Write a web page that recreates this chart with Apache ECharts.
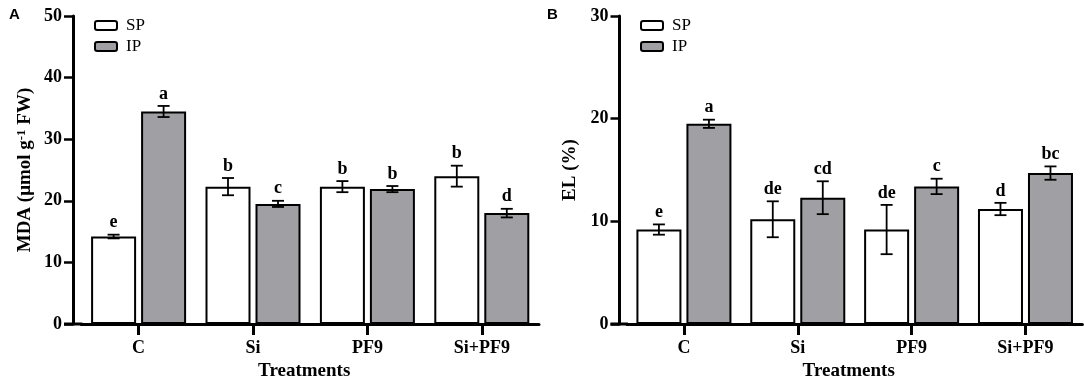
<!DOCTYPE html>
<html>
<head>
<meta charset="utf-8">
<script src="https://cdn.jsdelivr.net/npm/echarts@6/dist/echarts.min.js"></script>
<style>
  html, body { margin: 0; padding: 0; background: #fff; }
  #chart { width: 1084px; height: 376px; }
</style>
</head>
<body>
<div id="chart"></div>
<script>
// data
const categories = ['C', 'Si', 'PF9', 'Si+PF9']

const mdaSP = [14.2, 22.3, 22.3, 24.0]
const mdaSPErr = [0.3, 1.4, 0.9, 1.7]
const mdaSPLetters = ['e', 'b', 'b', 'b']
const mdaIP = [34.5, 19.5, 21.9, 18.0]
const mdaIPErr = [0.9, 0.5, 0.5, 0.7]
const mdaIPLetters = ['a', 'c', 'b', 'd']

const elSP = [9.2, 10.2, 9.2, 11.2]
const elSPErr = [0.5, 1.75, 2.4, 0.6]
const elSPLetters = ['e', 'de', 'de', 'd']
const elIP = [19.5, 12.3, 13.4, 14.7]
const elIPErr = [0.4, 1.6, 0.75, 0.65]
const elIPLetters = ['a', 'cd', 'c', 'bc']

const serif = "'Liberation Serif', 'Times New Roman', serif"
const gray = '#a0a0a4'
const barW = 45
const gapPx = 5
const shift = (barW + gapPx) / 2

const gridA = { left: 81.4, right: 545, top: 16, bottom: 52, outerBoundsMode: 'none' }
const gridB = { left: 627, right: 1.6, top: 16, bottom: 52, outerBoundsMode: 'none' }
const offA = 8.4
const offB = 7.5
const yTickLen = 9

function xAxisCfg(idx) {
  return {
    type: 'category', gridIndex: idx, data: categories,
    name: 'Treatments', nameLocation: 'middle', nameGap: 34,
    nameTextStyle: { fontFamily: serif, fontWeight: 'bold', fontSize: 19, color: '#000', padding: [0, 12, 0, 0] },
    axisLine: { show: true, lineStyle: { color: '#000', width: 3 } },
    axisTick: { show: true, interval: 0, alignWithLabel: true, length: 11, lineStyle: { color: '#000', width: 3 } },
    axisLabel: { fontFamily: serif, fontWeight: 'bold', fontSize: 18, color: '#000', margin: 15 }
  }
}

function yAxisCfg(idx, max, name, gap, off) {
  return {
    type: 'value', gridIndex: idx, min: 0, max: max, interval: 10, offset: off,
    name: name, nameLocation: 'middle', nameGap: gap, nameRotate: 90,
    nameTextStyle: {
      fontFamily: serif, fontWeight: 'bold', fontSize: 19, color: '#000',
      rich: { sup: { fontFamily: serif, fontWeight: 'bold', fontSize: 13, color: '#000', verticalAlign: 'top', padding: [0, 0, 8, 0] } }
    },
    splitLine: { show: false },
    axisLine: { show: true, lineStyle: { color: '#000', width: 3 } },
    axisTick: { show: true, length: yTickLen, lineStyle: { color: '#000', width: 2.5 } },
    axisLabel: { fontFamily: serif, fontWeight: 'bold', fontSize: 18, color: '#000', margin: 11 }
  }
}

function barSeries(name, idx, values, color) {
  return {
    name: name, type: 'bar', xAxisIndex: idx, yAxisIndex: idx,
    data: values, barWidth: barW, barGap: (gapPx / barW * 100) + '%',
    itemStyle: { color: color, borderColor: '#000', borderWidth: 2 },
    emphasis: { disabled: true }
  }
}

function errSeries(name, idx, values, errs, letters, side) {
  return {
    name: name, type: 'custom', xAxisIndex: idx, yAxisIndex: idx, silent: true, z: 10,
    data: values.map((v, i) => [i, v, errs[i], letters[i]]),
    renderItem: function (params, api) {
      const i = api.value(0)
      const v = api.value(1)
      const e = api.value(2)
      const top = api.coord([i, v + e])
      const bot = api.coord([i, v - e])
      const x = top[0] + side * shift
      const s = { stroke: '#000', lineWidth: 1.8 }
      return {
        type: 'group',
        children: [
          { type: 'line', shape: { x1: x, y1: top[1], x2: x, y2: bot[1] }, style: s },
          { type: 'line', shape: { x1: x - 6, y1: top[1], x2: x + 6, y2: top[1] }, style: s },
          { type: 'line', shape: { x1: x - 6, y1: bot[1], x2: x + 6, y2: bot[1] }, style: s },
          {
            type: 'text',
            style: {
              text: letters[i], x: x, y: top[1] - 3,
              textAlign: 'center', textVerticalAlign: 'bottom',
              font: 'bold 18px ' + serif, fill: '#000'
            }
          }
        ]
      }
    }
  }
}

function legendCfg(left) {
  return {
    data: ['SP', 'IP'], orient: 'vertical', left: left, top: 12,
    itemWidth: 22, itemHeight: 9, itemGap: 4, selectedMode: false,
    textStyle: { fontFamily: serif, fontSize: 17, color: '#000', lineHeight: 17, padding: [0, 0, 0, 4] }
  }
}

const chart = echarts.init(document.getElementById('chart'))
const axisY = 376 - gridA.bottom

chart.setOption({
  animation: false,
  backgroundColor: '#fff',
  grid: [gridA, gridB],
  legend: [legendCfg(89), legendCfg(635)],
  xAxis: [xAxisCfg(0), xAxisCfg(1)],
  yAxis: [
    yAxisCfg(0, 50, 'MDA (μmol g{sup|-1} FW)', 37, offA),
    yAxisCfg(1, 30, 'EL (%)', 40, offB)
  ],
  graphic: [
    { type: 'text', left: 9, top: 7, style: { text: 'A', font: 'bold 15px Arial, Liberation Sans, sans-serif', fill: '#000' } },
    { type: 'text', left: 547, top: 7, style: { text: 'B', font: 'bold 15px Arial, Liberation Sans, sans-serif', fill: '#000' } },
    // x axis line continued under the offset y axes (zero tick included)
    { type: 'line', z: 20, shape: { x1: gridA.left - offA - yTickLen, y1: axisY, x2: gridA.left + 1, y2: axisY }, style: { stroke: '#000', lineWidth: 3 } },
    { type: 'line', z: 20, shape: { x1: gridB.left - offB - yTickLen, y1: axisY, x2: gridB.left + 1, y2: axisY }, style: { stroke: '#000', lineWidth: 3 } }
  ],
  series: [
    barSeries('SP', 0, mdaSP, '#fff'),
    barSeries('IP', 0, mdaIP, gray),
    errSeries('SP', 0, mdaSP, mdaSPErr, mdaSPLetters, -1),
    errSeries('IP', 0, mdaIP, mdaIPErr, mdaIPLetters, 1),
    barSeries('SP', 1, elSP, '#fff'),
    barSeries('IP', 1, elIP, gray),
    errSeries('SP', 1, elSP, elSPErr, elSPLetters, -1),
    errSeries('IP', 1, elIP, elIPErr, elIPLetters, 1)
  ]
})
</script>
</body>
</html>
